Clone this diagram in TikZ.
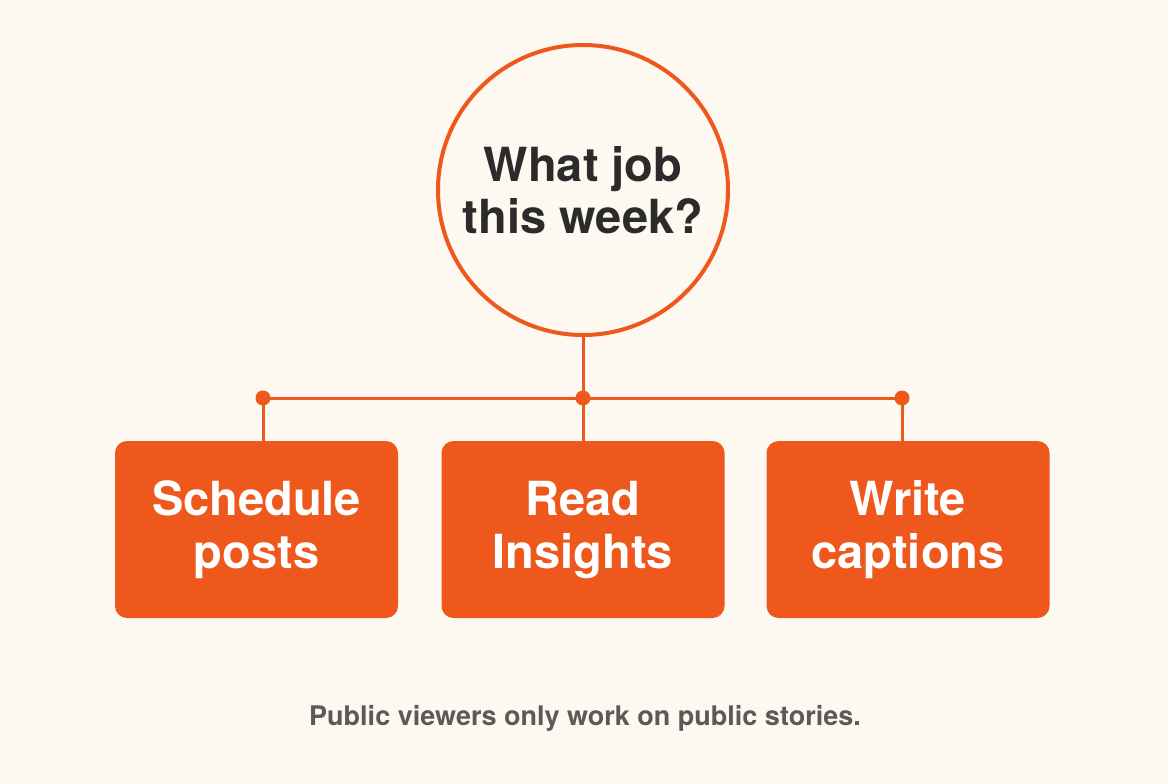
\documentclass[tikz,border=0pt]{standalone}
\usepackage{fontspec}
\setmainfont{TeX Gyre Heros}
\usepackage{tikz}
\usetikzlibrary{positioning,calc}
\definecolor{bgpaper}{HTML}{FDF8F0}
\definecolor{jorange}{HTML}{EE581C}
\definecolor{inkdark}{HTML}{2B2B2B}
\definecolor{inkgrey}{HTML}{5A5A5A}
\tikzset{
  ask/.style={draw=jorange,line width=4pt,circle,minimum size=290pt,align=center,text=inkdark,font=\fontsize{47}{52}\selectfont\bfseries},
  job/.style={fill=jorange,rounded corners=12pt,minimum width=283pt,minimum height=177pt,align=center,text=white,font=\fontsize{47}{53}\selectfont\bfseries},
  dot/.style={circle,fill=jorange,minimum size=15pt,inner sep=0pt},
  link/.style={draw=jorange,line width=3pt},
  note/.style={text=inkgrey,font=\fontsize{27}{32}\selectfont\bfseries},
}
\begin{document}
\begin{tikzpicture}[x=1pt,y=-1pt]
 \fill[bgpaper] (0,0) rectangle (1168,784);
 \useasboundingbox (0,0) rectangle (1168,784);
 \node[ask] (q) at (583,190) {What job\\this week?};
 \node[job] (s) at (256.5,529.5) {Schedule\\posts};
 \node[job] (r) at (583,529.5) {Read\\Insights};
 \node[job] (w) at (908,529.5) {Write\\captions};
 \node[dot] (d1) at (263,398) {};
 \node[dot] (d2) at (583,398) {};
 \node[dot] (d3) at (902,398) {};
 \draw[link] (q.south)--(d2.center);
 \draw[link] (d1.center)--(d3.center);
 \draw[link] (d1.center)--(d1 |- s.north); \draw[link] (d2.center)--(r.north); \draw[link] (d3.center)--(d3 |- w.north);
 \node[note] (n) at (585,718) {Public viewers only work on public stories.};
\end{tikzpicture}
\end{document}
